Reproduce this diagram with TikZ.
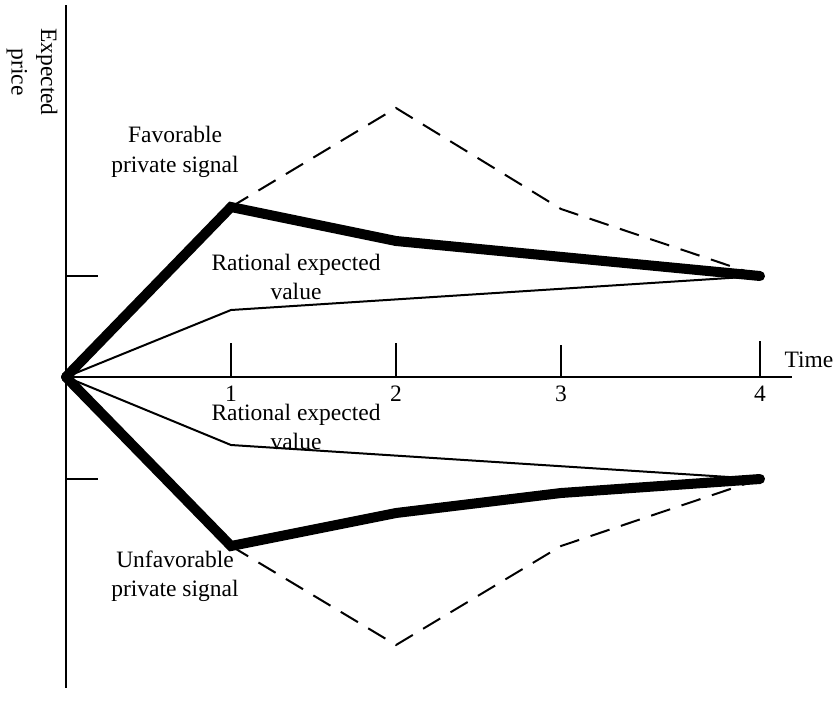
\documentclass[tikz,border=0pt]{standalone}
\usepackage{fontspec}
\setmainfont{Liberation Serif}
\begin{document}
\begin{tikzpicture}[x=1pt,y=-1pt,
  axis/.style={line width=1.8pt},
  thinline/.style={line width=2pt,line join=round},
  thickline/.style={line width=10pt,line join=miter,line cap=round},
  dashline/.style={line width=2pt,dash pattern=on 20pt off 12pt},
  lbl/.style={font=\fontsize{23.5}{29.5}\selectfont,align=center,inner sep=0pt},
  num/.style={font=\fontsize{23.5}{29.5}\selectfont,inner sep=0pt}]
\useasboundingbox (0,0) rectangle (835,716);
% named points
\coordinate (O) at (66,377);
\coordinate (ytop) at (66,5);
\coordinate (ybot) at (66,688);
\coordinate (xend) at (792,377);
\coordinate (t1) at (231,377); \coordinate (t1a) at (231,343);
\coordinate (t2) at (396,377); \coordinate (t2a) at (396,343);
\coordinate (t3) at (561,377); \coordinate (t3a) at (561,345);
\coordinate (t4) at (760,377); \coordinate (t4a) at (760,341);
\coordinate (yh) at (66,276); \coordinate (yhe) at (98,276);
\coordinate (yl) at (66,479); \coordinate (yle) at (98,479);
% upper
\coordinate (U1) at (231,207);
\coordinate (U2) at (396,241);
\coordinate (U4) at (760,276);
\coordinate (UD2) at (396,108);
\coordinate (UD3) at (561,209);
\coordinate (UR1) at (231,310);
% lower
\coordinate (L1) at (231,546);
\coordinate (L2) at (396,513);
\coordinate (L3) at (561,493);
\coordinate (L4) at (760,479);
\coordinate (LD2) at (396,645);
\coordinate (LD3) at (561,546);
\coordinate (LR1) at (231,445);
% axes
\draw[axis] (ytop) -- (ybot);
\draw[axis] (O) -- (xend);
\draw[axis] (t1) -- (t1a);
\draw[axis] (t2) -- (t2a);
\draw[axis] (t3) -- (t3a);
\draw[axis] (t4) -- (t4a);
\draw[axis] (yh) -- (yhe);
\draw[axis] (yl) -- (yle);
% curves
\draw[dashline] (U1) -- (UD2) -- (UD3) -- (U4);
\draw[dashline] (L1) -- (LD2) -- (LD3) -- (L4);
\draw[thinline] (O) -- (UR1) -- (U4);
\draw[thinline] (O) -- (LR1) -- (L4);
\draw[thickline] (O) -- (U1) -- (U2) -- (U4);
\draw[thickline] (O) -- (L1) -- (L2) -- (L3) -- (L4);
% labels
\node[num] (n1) at (231,394) {1};
\node[num] (n2) at (396,394) {2};
\node[num] (n3) at (561,394) {3};
\node[num] (n4) at (760,394) {4};
\node[num] (time) at (809,360) {Time};
\node[lbl,rotate=-90] (ep) at (32,72) {Expected\\price};
\node[lbl] (fav) at (175,152) {Favorable\\private signal};
\node[lbl] (rat1) at (296,277) {Rational expected\\value};
\node[lbl] (rat2) at (296,427) {Rational expected\\value};
\node[lbl] (unf) at (175,576) {Unfavorable\\private signal};
\end{tikzpicture}
\end{document}
